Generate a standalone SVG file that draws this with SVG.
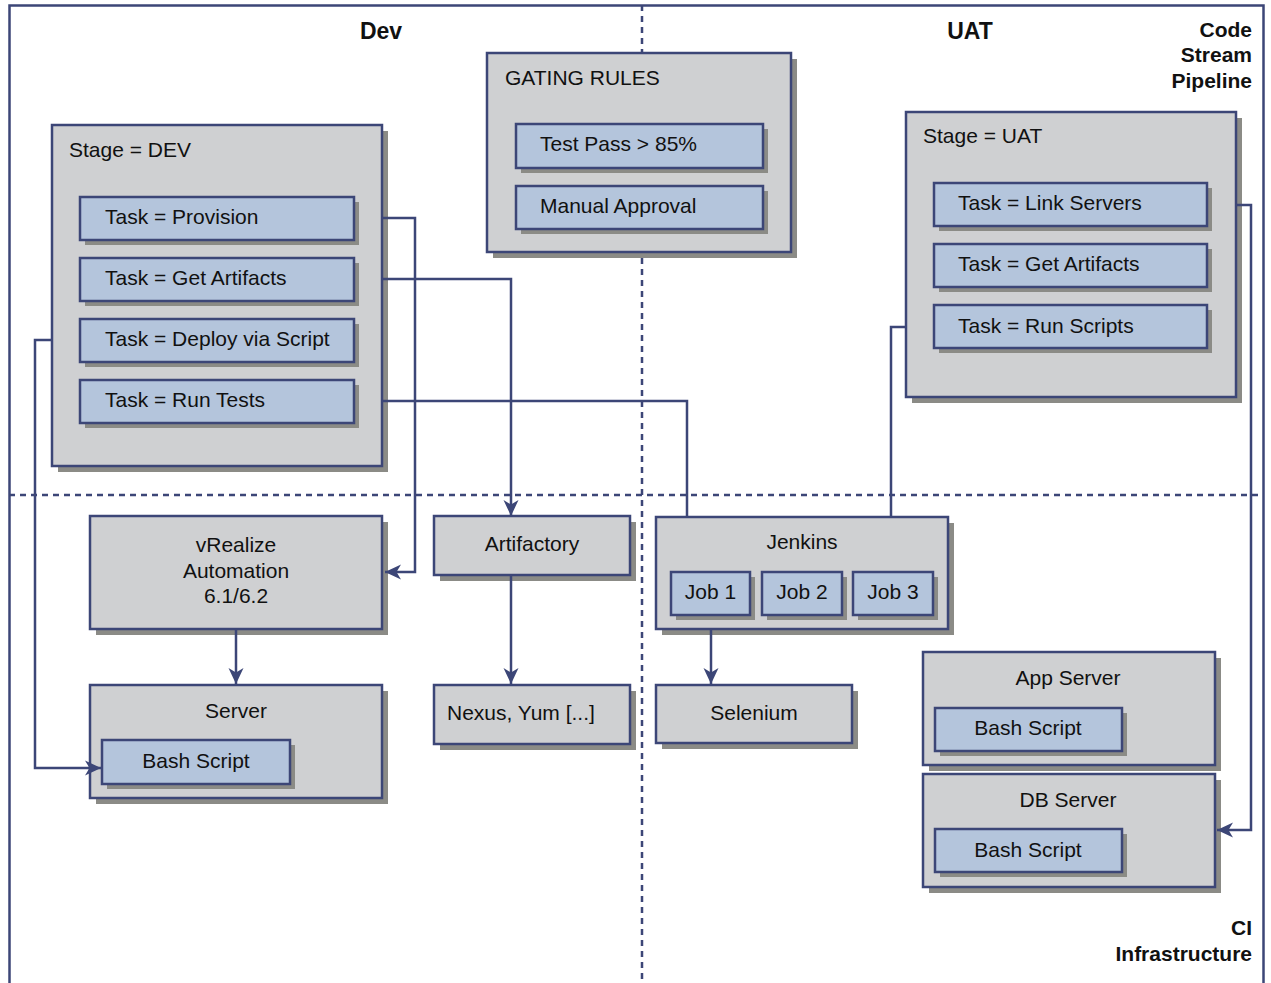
<svg xmlns="http://www.w3.org/2000/svg" width="1271" height="983" viewBox="0 0 1271 983">
<defs>
<style>
.frame{fill:none;stroke:#3c4677;stroke-width:2.5}
.dash{fill:none;stroke:#3c4677;stroke-width:2.5;stroke-dasharray:6 5}
.g{fill:#cfd0d2;stroke:#3c4677;stroke-width:2.5}
.b{fill:#b4c5dc;stroke:#3c4677;stroke-width:2.5}
.sh{fill:#8b8b86}
.c{fill:none;stroke:#3c4677;stroke-width:2.5}
text{font-family:"Liberation Sans",Arial,sans-serif;font-size:21px;fill:#111}
.t{font-weight:bold;font-size:21px}
.big{font-size:23px}
.m{text-anchor:middle}
.e{text-anchor:end}
</style>
<marker id="ah" markerUnits="userSpaceOnUse" markerWidth="18" markerHeight="18" refX="17" refY="9" orient="auto">
<path d="M1,1.5 L17,9 L1,16.5 L5.5,9 z" fill="#3c4677"/>
</marker>
</defs>
<rect width="1271" height="983" fill="#ffffff"/>
<rect class="frame" x="9.5" y="5.5" width="1254" height="1000"/>
<line class="dash" x1="642" y1="5" x2="642" y2="983"/>
<line class="dash" x1="9" y1="495" x2="1264" y2="495"/>
<g id="labels">
<text class="t big m" x="381" y="39">Dev</text>
<text class="t big m" x="970" y="39">UAT</text>
<text class="t e" x="1252" y="37">Code</text>
<text class="t e" x="1252" y="62">Stream</text>
<text class="t e" x="1252" y="88">Pipeline</text>
<text class="t e" x="1252" y="935">CI</text>
<text class="t e" x="1252" y="961">Infrastructure</text>
</g>
<g id="stage-dev">
<rect class="sh" x="58" y="131" width="330" height="341"/>
<rect class="g" x="52" y="125" width="330" height="341"/>
<text x="69" y="157">Stage = DEV</text>
<rect class="sh" x="85" y="202" width="274" height="43"/>
<rect class="b" x="80" y="197" width="274" height="43"/>
<text x="105" y="224">Task = Provision</text>
<rect class="sh" x="85" y="263" width="274" height="43"/>
<rect class="b" x="80" y="258" width="274" height="43"/>
<text x="105" y="285">Task = Get Artifacts</text>
<rect class="sh" x="85" y="324" width="274" height="43"/>
<rect class="b" x="80" y="319" width="274" height="43"/>
<text x="105" y="346">Task = Deploy via Script</text>
<rect class="sh" x="85" y="385" width="274" height="43"/>
<rect class="b" x="80" y="380" width="274" height="43"/>
<text x="105" y="407">Task = Run Tests</text>
</g>
<g id="gating">
<rect class="sh" x="493" y="59" width="304" height="199"/>
<rect class="g" x="487" y="53" width="304" height="199"/>
<text x="505" y="85">GATING RULES</text>
<rect class="sh" x="521" y="129" width="247" height="44"/>
<rect class="b" x="516" y="124" width="247" height="44"/>
<text x="540" y="151">Test Pass &gt; 85%</text>
<rect class="sh" x="521" y="191" width="247" height="43"/>
<rect class="b" x="516" y="186" width="247" height="43"/>
<text x="540" y="213">Manual Approval</text>
</g>
<g id="stage-uat">
<rect class="sh" x="912" y="118" width="330" height="285"/>
<rect class="g" x="906" y="112" width="330" height="285"/>
<text x="923" y="143">Stage = UAT</text>
<rect class="sh" x="939" y="188" width="273" height="43"/>
<rect class="b" x="934" y="183" width="273" height="43"/>
<text x="958" y="210">Task = Link Servers</text>
<rect class="sh" x="939" y="249" width="273" height="43"/>
<rect class="b" x="934" y="244" width="273" height="43"/>
<text x="958" y="271">Task = Get Artifacts</text>
<rect class="sh" x="939" y="310" width="273" height="43"/>
<rect class="b" x="934" y="305" width="273" height="43"/>
<text x="958" y="333">Task = Run Scripts</text>
</g>
<g id="vrealize">
<rect class="sh" x="96" y="522" width="292" height="113"/>
<rect class="g" x="90" y="516" width="292" height="113"/>
<text class="m" x="236" y="552">vRealize</text>
<text class="m" x="236" y="578">Automation</text>
<text class="m" x="236" y="603">6.1/6.2</text>
</g>
<g id="server">
<rect class="sh" x="96" y="691" width="292" height="113"/>
<rect class="g" x="90" y="685" width="292" height="113"/>
<text class="m" x="236" y="718">Server</text>
<rect class="sh" x="107" y="745" width="188" height="44"/>
<rect class="b" x="102" y="740" width="188" height="44"/>
<text class="m" x="196" y="768">Bash Script</text>
</g>
<g id="artifactory">
<rect class="sh" x="440" y="522" width="196" height="59"/>
<rect class="g" x="434" y="516" width="196" height="59"/>
<text class="m" x="532" y="551">Artifactory</text>
</g>
<g id="nexus">
<rect class="sh" x="440" y="691" width="196" height="59"/>
<rect class="g" x="434" y="685" width="196" height="59"/>
<text x="447" y="720">Nexus, Yum [...]</text>
</g>
<g id="jenkins">
<rect class="sh" x="662" y="523" width="292" height="112"/>
<rect class="g" x="656" y="517" width="292" height="112"/>
<text class="m" x="802" y="549">Jenkins</text>
<rect class="sh" x="676" y="577" width="79" height="43"/>
<rect class="b" x="671" y="572" width="79" height="43"/>
<text class="m" x="710.5" y="599">Job 1</text>
<rect class="sh" x="767" y="577" width="80" height="43"/>
<rect class="b" x="762" y="572" width="80" height="43"/>
<text class="m" x="802" y="599">Job 2</text>
<rect class="sh" x="858" y="577" width="80" height="43"/>
<rect class="b" x="853" y="572" width="80" height="43"/>
<text class="m" x="893" y="599">Job 3</text>
</g>
<g id="selenium">
<rect class="sh" x="662" y="691" width="196" height="58"/>
<rect class="g" x="656" y="685" width="196" height="58"/>
<text class="m" x="754" y="720">Selenium</text>
</g>
<g id="app-server">
<rect class="sh" x="929" y="658" width="292" height="113"/>
<rect class="g" x="923" y="652" width="292" height="113"/>
<text class="m" x="1068" y="685">App Server</text>
<rect class="sh" x="940" y="713" width="187" height="43"/>
<rect class="b" x="935" y="708" width="187" height="43"/>
<text class="m" x="1028" y="735">Bash Script</text>
</g>
<g id="db-server">
<rect class="sh" x="929" y="780" width="292" height="113"/>
<rect class="g" x="923" y="774" width="292" height="113"/>
<text class="m" x="1068" y="807">DB Server</text>
<rect class="sh" x="940" y="834" width="187" height="43"/>
<rect class="b" x="935" y="829" width="187" height="43"/>
<text class="m" x="1028" y="857">Bash Script</text>
</g>
<g id="connectors">
<polyline class="c" points="382,218 415,218 415,572 385,572" marker-end="url(#ah)"/>
<polyline class="c" points="382,279 511,279 511,516" marker-end="url(#ah)"/>
<polyline class="c" points="382,401 687,401 687,517"/>
<polyline class="c" points="52,340 35,340 35,768 101,768" marker-end="url(#ah)"/>
<line class="c" x1="236" y1="629" x2="236" y2="684" marker-end="url(#ah)"/>
<line class="c" x1="511" y1="575" x2="511" y2="684" marker-end="url(#ah)"/>
<line class="c" x1="711" y1="629" x2="711" y2="684" marker-end="url(#ah)"/>
<polyline class="c" points="906,327 891,327 891,517"/>
<polyline class="c" points="1236,205 1251,205 1251,830 1217,830" marker-end="url(#ah)"/>
</g>
</svg>
